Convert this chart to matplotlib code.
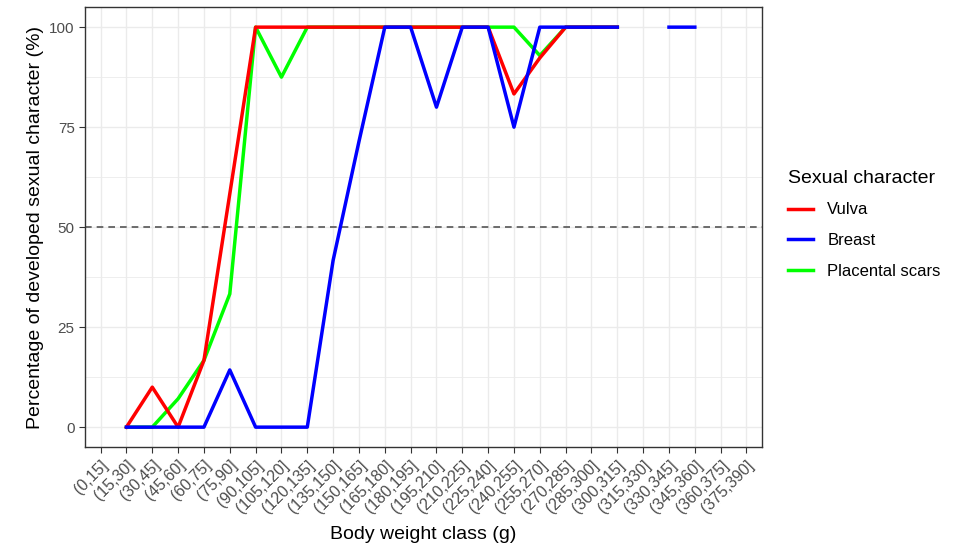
import numpy as np
import matplotlib
matplotlib.use("Agg")
import matplotlib.pyplot as plt
import matplotlib.transforms as mtransforms
from matplotlib.ticker import MultipleLocator

plt.rcParams["font.family"] = ["Liberation Sans", "DejaVu Sans"]

nan = np.nan

weight_classes = [
    "(0,15]", "(15,30]", "(30,45]", "(45,60]", "(60,75]", "(75,90]",
    "(90,105]", "(105,120]", "(120,135]", "(135,150]", "(150,165]",
    "(165,180]", "(180,195]", "(195,210]", "(210,225]", "(225,240]",
    "(240,255]", "(255,270]", "(270,285]", "(285,300]", "(300,315]",
    "(315,330]", "(330,345]", "(345,360]", "(360,375]", "(375,390]",
]

vulva = [nan, 0, 10, 0, 16.7, 58.3, 100, 100, 100, 100, 100, 100, 100,
         100, 100, 100, 83.3, 92.3, 100, 100, 100, nan, nan, nan, nan, nan]
breast = [nan, 0, 0, 0, 0, 14.3, 0, 0, 0, 41.7, 71.4, 100, 100,
          80, 100, 100, 75, 100, 100, 100, 100, nan, 100, 100, nan, nan]
placental = [nan, 0, 0, 7.1, 16.7, 33.3, 100, 87.5, 100, 100, 100, 100, 100,
             100, 100, 100, 100, 92.9, 100, 100, 100, nan, nan, nan, nan, nan]

x = np.arange(len(weight_classes))

fig = plt.figure(figsize=(9.67, 5.5), dpi=100)
ax = fig.add_axes([0.088, 0.187, 0.7, 0.8])

ax.axhline(50, color="#555555", linestyle=(0, (4, 3)), linewidth=1.2, zorder=1)

# drawing order: green at the bottom, blue on top
ax.plot(x, placental, color="#00FF00", linewidth=2.5, zorder=2, label="Placental scars")
ax.plot(x, vulva, color="#FF0000", linewidth=2.5, zorder=3, label="Vulva")
ax.plot(x, breast, color="#0000FF", linewidth=2.5, zorder=4, label="Breast")

ax.set_xlim(-0.6, len(weight_classes) - 0.4)
ax.set_ylim(-5, 105)
ax.set_xticks(x)
ax.set_xticklabels(weight_classes, rotation=45, ha="right", va="top",
                   rotation_mode="anchor", fontsize=11.5, color="#4d4d4d")
shift = mtransforms.ScaledTranslation(7 / 100, -2 / 100, fig.dpi_scale_trans)
for lab in ax.get_xticklabels():
    lab.set_transform(lab.get_transform() + shift)
ax.yaxis.set_major_locator(MultipleLocator(25))
ax.yaxis.set_minor_locator(MultipleLocator(12.5))
ax.tick_params(axis="y", labelsize=11, labelcolor="#4d4d4d")
ax.tick_params(axis="both", which="major", color="#333333", length=4)
ax.tick_params(axis="y", which="minor", length=0)

ax.grid(which="major", color="#ebebeb", linewidth=1.0, zorder=0)
ax.grid(which="minor", axis="y", color="#ebebeb", linewidth=0.6, zorder=0)
ax.set_axisbelow(True)
for s in ax.spines.values():
    s.set_color("#333333")
    s.set_linewidth(1.0)

ax.set_xlabel("Body weight class (g)", fontsize=14, labelpad=7)
ax.set_ylabel("Percentage of developed sexual character (%)", fontsize=14, labelpad=4)

handles, labels = ax.get_legend_handles_labels()
order = [1, 2, 0]
leg = fig.legend([handles[i] for i in order], [labels[i] for i in order],
                 loc="center left", bbox_to_anchor=(0.815, 0.592),
                 frameon=False, title="Sexual character", fontsize=12,
                 title_fontsize=14, handlelength=1.5, labelspacing=0.95,
                 handletextpad=0.85, borderaxespad=0, borderpad=0)
leg._legend_box.align = "left"

fig.savefig("out.png", dpi=100)
